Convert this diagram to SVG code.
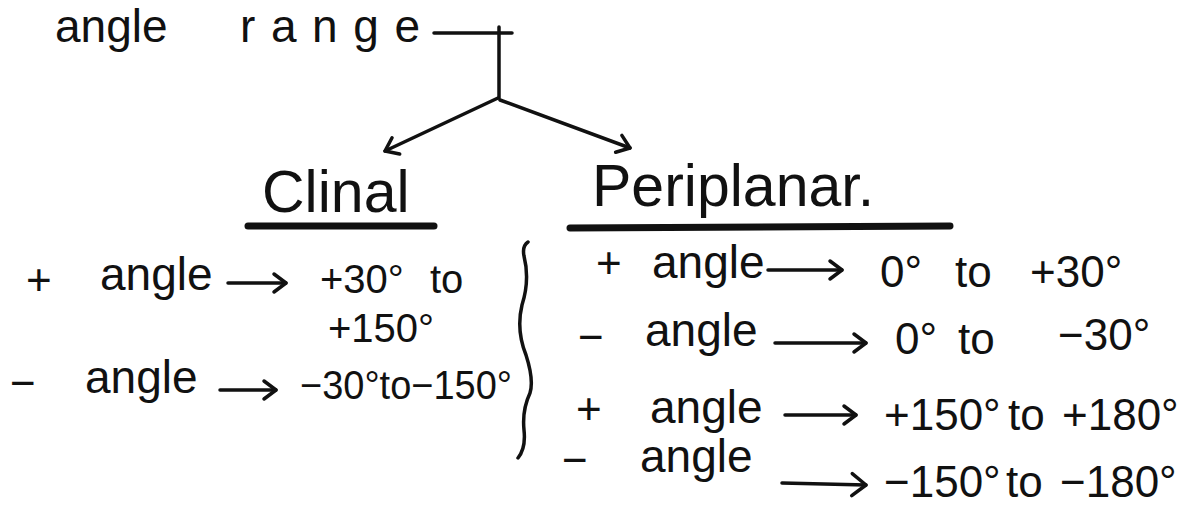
<svg xmlns="http://www.w3.org/2000/svg" width="1187" height="509" viewBox="0 0 1187 509">
<style>
  text { font-family: "Liberation Sans", Arial, sans-serif; fill: #111; }
  .t { font-size: 44px; }
  .w { font-size: 46px; }
  .n { font-size: 40px; }
  .h { font-size: 59px; }
  .c { stroke: #111; stroke-width: 3.5; fill: none; stroke-linecap: round; stroke-linejoin: round; }
  .ul { stroke: #111; stroke-width: 7; stroke-linecap: round; }
</style>
<defs>
  <marker id="ah" markerUnits="userSpaceOnUse" markerWidth="24" markerHeight="24" refX="18" refY="12" orient="auto">
    <path d="M6,3 L18,12 L6,21" fill="none" stroke="#111" stroke-width="3.5" stroke-linecap="round" stroke-linejoin="round"/>
  </marker>
  <marker id="ahb" markerUnits="userSpaceOnUse" markerWidth="30" markerHeight="30" refX="22" refY="15" orient="auto">
    <path d="M8,4 L22,15 L8,26" fill="none" stroke="#111" stroke-width="3.5" stroke-linecap="round" stroke-linejoin="round"/>
  </marker>
</defs>
<rect width="1187" height="509" fill="#fff"/>

<g id="title">
  <text class="w" x="55" y="42">angle</text>
  <text class="w" x="240" y="42" font-size="50" textLength="180" lengthAdjust="spacing">range</text>
</g>

<g id="clinal">
  <text class="h" x="262" y="212">Clinal</text>
  <line class="ul" x1="248" y1="226" x2="434" y2="226"/>
</g>

<g id="periplanar">
  <text class="h" x="592" y="206">Periplanar.</text>
  <line class="ul" x1="570" y1="228" x2="950" y2="226"/>
</g>

<g id="clinal-plus">
  <text class="t" x="26" y="295">+</text>
  <text class="w" x="100" y="290">angle</text>
  <text class="n" x="320" y="293">+30°</text>
  <text class="n" x="430" y="293">to</text>
  <text class="n" x="328" y="342">+150°</text>
</g>

<g id="clinal-minus">
  <text class="t" x="10" y="398">−</text>
  <text class="w" x="85" y="393">angle</text>
  <text class="n" x="300" y="399" textLength="212" lengthAdjust="spacingAndGlyphs">−30°to−150°</text>
</g>

<g id="brace">
  <path class="c" d="M528,242 Q522,246 524,256 Q530,280 522,305 Q516,330 526,355 Q534,380 530,393 Q522,410 524,430 Q526,448 518,458"/>
</g>

<g id="peri-1">
  <text class="t" x="596" y="278">+</text>
  <text class="w" x="652" y="278">angle</text>
  <text class="t" x="880" y="287">0°</text>
  <text class="t" x="955" y="287">to</text>
  <text class="t" x="1030" y="287">+30°</text>
</g>

<g id="peri-2">
  <text class="t" x="578" y="352">−</text>
  <text class="w" x="645" y="346">angle</text>
  <text class="t" x="895" y="354">0°</text>
  <text class="t" x="958" y="354">to</text>
  <text class="t" x="1058" y="350">−30°</text>
</g>

<g id="peri-3">
  <text class="t" x="576" y="424">+</text>
  <text class="w" x="650" y="423">angle</text>
  <text class="t" x="884" y="430">+150°</text>
  <text class="t" x="1008" y="430">to</text>
  <text class="t" x="1062" y="430">+180°</text>
</g>

<g id="peri-4">
  <text class="t" x="562" y="475">−</text>
  <text class="w" x="640" y="472">angle</text>
  <text class="t" x="884" y="497">−150°</text>
  <text class="t" x="1006" y="497">to</text>
  <text class="t" x="1060" y="497">−180°</text>
</g>

<g id="connectors">
  <path class="c" d="M434,33 L512,33 M499,27 L499,98"/>
  <line class="c" x1="498" y1="98" x2="385" y2="151" marker-end="url(#ah)"/>
  <line class="c" x1="500" y1="100" x2="630" y2="148" marker-end="url(#ah)"/>
  <line class="c" x1="228" y1="283" x2="286" y2="283" marker-end="url(#ah)"/>
  <line class="c" x1="220" y1="390" x2="276" y2="390" marker-end="url(#ah)"/>
  <line class="c" x1="768" y1="270" x2="842" y2="270" marker-end="url(#ah)"/>
  <line class="c" x1="775" y1="343" x2="866" y2="343" marker-end="url(#ah)"/>
  <line class="c" x1="785" y1="415" x2="856" y2="415" marker-end="url(#ah)"/>
  <line class="c" x1="782" y1="483" x2="866" y2="485" stroke-width="8" marker-end="url(#ahb)"/>
</g>
</svg>
